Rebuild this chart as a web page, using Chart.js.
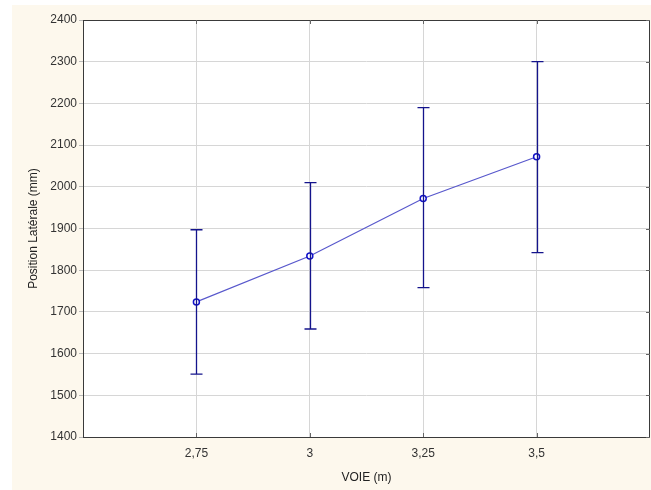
<!DOCTYPE html>
<html>
<head>
<meta charset="utf-8">
<script src="https://cdn.jsdelivr.net/npm/chart.js@4/dist/chart.umd.min.js"></script>
<style>
  html, body { margin: 0; padding: 0; background: #fff; }
  #wrap { width: 651px; height: 490px; }
</style>
</head>
<body>
<div id="wrap"><canvas id="myChart" width="651" height="490"></canvas></div>
<script>
// data
const voie = [2.75, 3, 3.25, 3.5];
const voieLabels = ['2,75', '3', '3,25', '3,5'];
const moyenne = [1724, 1834, 1972, 2072];
const basse = [1551, 1659, 1758, 1842];
const haute = [1897, 2010, 2190, 2300];

const fontFam = "'Liberation Sans', Arial, sans-serif";

// cream panel and white plot area
const fondPlugin = {
    id: 'fond',
    beforeDraw(chart) {
        const ctx = chart.ctx;
        const a = chart.chartArea;
        ctx.save();
        ctx.fillStyle = '#ffffff';
        ctx.fillRect(0, 0, chart.width, chart.height);
        ctx.fillStyle = '#fdf8ed';
        ctx.fillRect(12, 5, chart.width - 12, chart.height - 5);
        ctx.fillStyle = '#ffffff';
        ctx.fillRect(a.left, a.top, a.right - a.left, a.bottom - a.top);
        ctx.restore();
    },
    afterDraw(chart) {
        const ctx = chart.ctx;
        const a = chart.chartArea;
        const x = chart.scales.x, y = chart.scales.y;
        ctx.save();
        ctx.strokeStyle = '#3a3a3a';
        ctx.lineWidth = 1;
        ctx.strokeRect(Math.round(a.left) + 0.5, Math.round(a.top) + 0.5,
            Math.round(a.right - a.left) - 1, Math.round(a.bottom - a.top));
        // inward ticks
        ctx.strokeStyle = '#666';
        ctx.beginPath();
        voie.forEach(v => {
            const px = Math.round(x.getPixelForValue(v)) + 0.5;
            ctx.moveTo(px, a.bottom); ctx.lineTo(px, a.bottom - 4);
            ctx.moveTo(px, a.top); ctx.lineTo(px, a.top + 4);
        });
        for (let v = 1400; v <= 2400; v += 100) {
            const py = Math.round(y.getPixelForValue(v)) + 0.5;
            ctx.moveTo(a.right, py); ctx.lineTo(a.right - 4, py);
        }
        ctx.stroke();
        ctx.restore();
    }
};

// vertical error bars from the scales
const barresPlugin = {
    id: 'barres',
    afterDatasetsDraw(chart) {
        const ctx = chart.ctx;
        const x = chart.scales.x, y = chart.scales.y;
        ctx.save();
        ctx.strokeStyle = '#14148c';
        ctx.lineWidth = 1.3;
        voie.forEach((v, i) => {
            const px = Math.round(x.getPixelForValue(v)) + 0.5;
            const yh = y.getPixelForValue(haute[i]);
            const yb = y.getPixelForValue(basse[i]);
            ctx.beginPath();
            ctx.moveTo(px, yh); ctx.lineTo(px, yb);
            ctx.moveTo(px - 6, yh); ctx.lineTo(px + 6, yh);
            ctx.moveTo(px - 6, yb); ctx.lineTo(px + 6, yb);
            ctx.stroke();
        });
        ctx.restore();
    }
};

new Chart(document.getElementById('myChart'), {
    type: 'line',
    data: {
        datasets: [{
            data: voie.map((v, i) => ({ x: v, y: moyenne[i] })),
            borderColor: '#5858cc',
            borderWidth: 1.2,
            pointRadius: 3,
            pointBorderColor: '#1212c8',
            pointBorderWidth: 1.5,
            pointBackgroundColor: '#ffffff',
            fill: false,
            tension: 0
        }]
    },
    options: {
        responsive: false,
        animation: false,
        layout: { autoPadding: false, padding: { left: 12, top: 20, right: 1, bottom: 0 } },
        plugins: { legend: { display: false }, tooltip: { enabled: false } },
        scales: {
            x: {
                type: 'linear',
                min: 2.5,
                max: 3.75,
                afterBuildTicks: axis => { axis.ticks = voie.map(v => ({ value: v })); },
                afterFit: axis => {
                    axis.height = 53;
                    axis.paddingLeft = 0;
                    axis.paddingRight = 0;
                },
                border: { display: false },
                grid: { color: '#d6d6d6', drawTicks: false },
                ticks: {
                    padding: 9,
                    color: '#333',
                    font: { family: fontFam, size: 12 },
                    callback: v => voieLabels[voie.indexOf(v)]
                },
                title: {
                    display: true,
                    text: 'VOIE (m)',
                    color: '#222',
                    font: { family: fontFam, size: 12 },
                    padding: { top: 0, bottom: 5 }
                }
            },
            y: {
                min: 1400,
                max: 2400,
                afterFit: axis => {
                    axis.width = 71;
                    axis.paddingTop = 0;
                    axis.paddingBottom = 0;
                },
                border: { display: false },
                grid: { color: '#d6d6d6', tickLength: 4, tickColor: '#bbb' },
                ticks: {
                    stepSize: 100,
                    padding: 2,
                    color: '#333',
                    font: { family: fontFam, size: 12 },
                    callback: v => String(v)
                },
                title: {
                    display: true,
                    text: 'Position Latérale (mm)',
                    color: '#222',
                    font: { family: fontFam, size: 12 },
                    padding: { top: 14, bottom: 0 }
                }
            }
        }
    },
    plugins: [fondPlugin, barresPlugin]
});
</script>
</body>
</html>
